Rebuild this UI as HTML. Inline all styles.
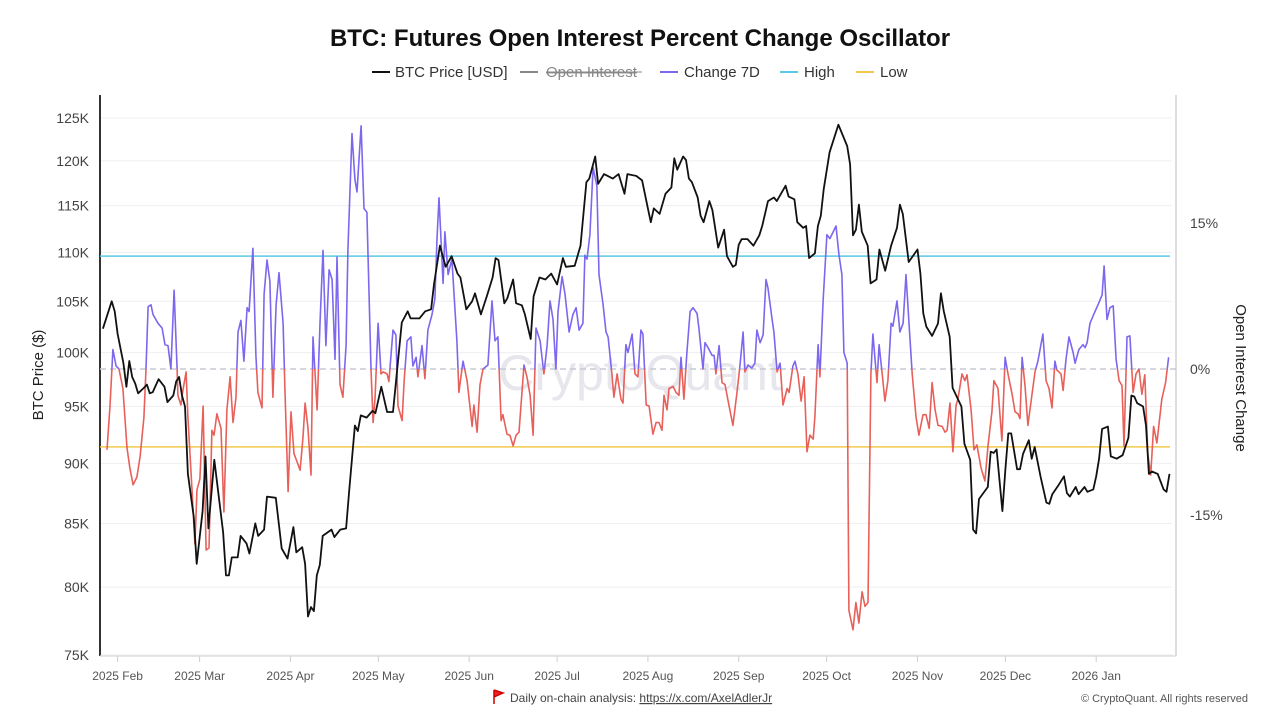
<!DOCTYPE html>
<html><head><meta charset="utf-8">
<style>
body{margin:0;width:1280px;height:720px;background:#fff;font-family:"Liberation Sans",sans-serif;overflow:hidden}
svg{display:block}
</style></head>
<body>
<svg id="chart" width="1280" height="720" viewBox="0 0 1280 720" xmlns="http://www.w3.org/2000/svg">
<text x="640" y="46" text-anchor="middle" font-size="24" font-weight="bold" fill="#111">BTC: Futures Open Interest Percent Change Oscillator</text>
<g id="legend" font-size="15" fill="#333">
  <g><line x1="372" y1="72" x2="390" y2="72" stroke="#111" stroke-width="2"/><text x="395" y="77">BTC Price [USD]</text></g>
  <g><line x1="520" y1="72" x2="538" y2="72" stroke="#888" stroke-width="2"/><text x="546" y="77" fill="#888" text-decoration="line-through">Open Interest</text><line x1="546" y1="72" x2="642" y2="72" stroke="#888" stroke-width="1"/></g>
  <g><line x1="660" y1="72" x2="678" y2="72" stroke="#7b68ee" stroke-width="2"/><text x="684" y="77">Change 7D</text></g>
  <g><line x1="780" y1="72" x2="798" y2="72" stroke="#5bc8e6" stroke-width="2"/><text x="804" y="77">High</text></g>
  <g><line x1="856" y1="72" x2="874" y2="72" stroke="#f2c94c" stroke-width="2"/><text x="880" y="77">Low</text></g>
</g>
<text x="640" y="390" text-anchor="middle" font-size="50" fill="#e6e6ec">CryptoQuant</text>
<g id="grid"></g>
<g id="axes"></g>
<g id="series"></g>
<text transform="translate(43,375) rotate(-90)" text-anchor="middle" font-size="15" fill="#222">BTC Price ($)</text>
<text transform="translate(1236,378) rotate(90)" text-anchor="middle" font-size="15" fill="#222">Open Interest Change</text>
<g font-size="12" fill="#444">
  <path d="M494 690 L494 704 M494 690 L503 693 L494 697" stroke="#c00" stroke-width="1.5" fill="#e22"/>
  <text x="510" y="702">Daily on-chain analysis: <tspan text-decoration="underline">https://x.com/AxelAdlerJr</tspan></text>
</g>
<text x="1248" y="702" text-anchor="end" font-size="11" fill="#555">© CryptoQuant. All rights reserved</text>
</svg>
<script>
const priceTicks=[75,80,85,90,95,100,105,110,115,120,125];
const oscTicks=[-15,0,15];
const monthLabels=["2025 Feb","2025 Mar","2025 Apr","2025 May","2025 Jun","2025 Jul","2025 Aug","2025 Sep","2025 Oct","2025 Nov","2025 Dec","2026 Jan"];
const monthDays=[6,34,65,95,126,156,187,218,248,279,309,340];
const highLevel=11.6;
const lowLevel=-8;
// days since 2025-01-26
const priceDays=[1,4,5,6,8,9,10,11,12,13,15,16,17,18,20,22,23,25,26,27,28,29,30,32,33,35,36,37,39,42,43,44,45,47,48,50,51,53,54,56,57,60,62,64,66,67,69,70,71,72,73,74,75,76,79,80,82,84,85,87,88,89,91,93,94,96,98,100,103,105,106,109,111,113,114,116,118,120,122,123,125,127,128,130,132,134,135,136,138,139,141,142,144,145,147,148,150,152,154,156,158,159,162,164,166,167,169,170,172,175,177,179,180,183,185,187,188,189,191,193,195,196,197,199,200,201,202,204,205,206,208,209,211,213,214,216,217,218,219,221,223,225,226,228,230,231,234,235,237,238,240,241,242,244,245,246,247,249,252,255,256,257,258,259,260,262,263,265,266,268,270,272,273,274,276,279,280,281,282,284,286,287,288,290,291,294,295,297,298,299,300,303,304,305,306,308,309,310,311,313,314,315,317,318,319,321,323,324,325,327,329,330,331,333,334,336,337,339,340,341,342,344,345,347,349,351,352,353,354,356,357,358,359,361,363,364,365];
const priceK=[102.3,105,104,101.8,99,96.8,99.2,97.7,97.1,96.2,96.7,97,96.2,96.3,97.5,96.8,95.4,96,97.3,97.7,96,95,89.1,85.5,81.8,86,90.6,84.6,90.3,84.3,80.9,80.9,82.3,82.3,84,83.4,82.6,85,84,84.5,87.2,87.1,83,82.2,84.7,82.7,83.1,81.8,77.8,78.5,78.2,80.9,81.7,84,84.5,83.9,84.5,84.6,87.6,93.3,92.8,94.2,94,94.6,94.4,96.8,94.5,94.5,102.9,104,103.3,103.3,104,104.2,106.7,110.7,108.5,109.6,107.8,107.4,104.2,105,105.8,103.7,105.5,107.4,109.4,109.2,104.8,105.3,107.2,104.8,104.6,103.7,101.3,105.5,107.4,107.2,107.8,106.7,109.4,108.5,108.6,110.7,117.6,118,120.5,117.4,118.5,118,118.5,116.3,118.5,118.3,117.8,114.7,113.2,114.7,114.1,116.3,117,120.3,119,120.5,120.1,118,117.6,115.9,113.9,113.2,115.5,114.5,110.5,112.4,109.6,108.5,108.7,110.8,111.4,111.4,110.7,111.8,112.8,115.5,115.9,115.5,117.2,116,115.7,113.2,112.6,112.8,109.4,109.9,112.8,113.9,116.8,121,124.2,121.7,119.6,111.8,112.4,115.1,112.2,110.7,106.8,107.2,110.3,108.1,110.7,112.6,115.1,114.1,109,110.3,107.8,103.8,102.5,101.6,102.8,105.8,104,101.5,96.7,95,91.7,90.3,84.5,84.2,87,88,91,90.9,91.2,86,89.5,92.6,92.6,89.5,89.5,90.8,92,90.4,91.4,88.9,86.7,86.6,87.4,88.1,88.9,87.5,87.2,88,87.4,88,87.6,87.8,88.9,90.4,93,93.2,90.6,90.4,90.7,92.2,96,95.9,95.3,95,93.3,89.1,89.3,89.1,87.8,87.6,89.1];
const oscDays=[2.4,3.4,4.4,5.5,6.5,7.8,9.2,10.2,11.3,12.6,13.7,15,15.7,16.4,17.4,18.1,19.8,21.2,22.2,23.2,24.2,25.3,26.3,26.6,27.6,28.3,29.4,30,31.4,32.4,33.1,34.1,35.2,36.2,37.2,38.2,38.9,39.9,41.3,42.3,43.3,44.4,45.4,46.4,47.1,48.1,49.1,50.2,50.9,52.2,53.2,53.9,55.3,56,57,58,59,60.1,61.1,62.5,63.1,64.2,65.2,66.2,67.2,68.3,69.3,70,71,72,72.7,74.1,75.1,76.1,77.1,78.2,79.2,80.2,80.9,81.9,82.9,84,84.6,86,87,87.7,89.1,90.1,91.1,92.5,93.2,93.9,94.9,95.9,96.6,98,98.6,100,101,101.7,103.1,103.8,104.8,106.1,106.8,107.9,108.5,109.9,110.9,111.9,113.3,114.3,115,115.7,117.1,117.7,118.8,120.1,121.2,121.8,122.5,123.9,125.3,127,127.6,128.7,129.7,130.7,132.4,133.8,134.8,135.8,136.9,137.5,138.9,139.9,141,142,143,144.7,145.7,146.8,147.8,148.8,150.2,151.5,152.6,153.6,154.6,155.6,156.3,157.7,158.7,160.1,161.4,162.5,163.5,164.8,165.5,166.2,167.2,168.3,169.6,170.3,171.7,172.7,173.4,174.7,175.4,176.5,177.8,178.5,179.5,180.2,181.6,182.6,183.6,184.6,185.3,186.4,187.4,188.7,189.8,190.8,191.8,192.5,193.5,194.2,195.6,196.6,197.6,198.3,199.3,200.3,201.4,202.4,203.8,204.4,205.8,206.5,207.5,208.9,209.6,210.2,211.3,212.3,213.3,214.7,216,217.4,218.4,219.5,220.1,221.2,222.5,223.5,224.2,225.3,226.3,227.3,228,229.4,230,231.1,232.1,233.1,234.5,235.2,236.5,237.2,238.2,239.3,240.3,241.3,242.3,243.4,244,245.1,245.7,246.8,248.1,249.1,251.2,252.2,253.2,253.9,255,255.6,257,258,259,260.1,261.1,262.1,263.1,263.8,265.2,265.9,267.2,267.9,268.9,270,270.6,272,273,274.1,275.1,276.1,277.2,278.5,279.5,280.9,281.9,283,284,285,286,287.4,288.4,289.1,290.1,291.1,292.2,292.8,294.2,295.2,295.9,297.3,298.3,299.3,300.7,302,303.1,304.4,305.1,306.5,307.8,308.9,309.9,311.3,312.3,313.3,314,314.7,315.7,316.7,318.1,319.1,320.1,321.8,322.9,323.9,324.9,325.9,326.6,328,328.7,329.7,330.7,332.1,332.8,334.1,335.5,336.2,336.9,337.9,339.3,340.6,342,342.7,343.7,344.7,345.8,346.8,347.8,348.8,349.5,350.5,351.5,352.6,353.6,354.6,355.6,356.6,357.6,358.6,359.6,360.7,362.4,363.7,364.7];
const oscPct=[-8.3,-3.8,2,0.3,0,-2,-8.1,-10.2,-11.9,-11.1,-9,-5,0,6.4,6.6,5.6,4.7,4.2,2.5,2.4,0,8.1,0,-2.7,-3.7,-2.2,-0.3,-4.9,-12.4,-18,-12.4,-11.3,-3.8,-18.6,-18.4,-6.3,-6.8,-4.6,-6.1,-14.7,-4.2,-0.8,-5.5,-2.9,3.8,5,0.8,6.3,5.9,12.4,1.4,-2.4,-4,7.7,11.2,9,-2.9,6.6,9.9,4.7,-2,-12.6,-4.4,-8.7,-9.5,-10.4,-7,-3.5,-6.1,-10.9,3.3,-4.2,4.7,12.2,2.4,10.2,9.2,1,11.5,-1.6,-2.9,2.5,12.2,24.2,19.5,18.2,25,16.5,16.1,0,-5.5,-2.9,4.7,-0.5,-0.3,-0.5,-1.3,4,3.5,-3.8,-5.3,-1.3,2.9,3.3,0.3,1.2,-0.8,2.4,-1,4,5.6,7.2,13.4,17.6,8.8,14.1,9.7,11.3,5.9,2.9,-2.4,0.8,-1.2,-5.9,-3.7,-6.5,-1.6,0,0.4,7,2.9,3.3,-5.3,-4.7,-6.7,-6.8,-7.9,-6.8,-6.5,0.4,-0.8,-2.7,-6.8,4.2,2.9,-0.5,2.4,7,5.1,0,5.9,9.5,7.7,3.8,5.6,6.3,4,4.7,11.7,11.3,13.8,20.7,18.8,9.7,6.6,3.8,3.3,-0.5,-2.9,-0.5,-3.1,-3.5,2.5,1.7,3.6,-0.5,-0.8,4,3.6,-3.7,-3.8,-6.7,-5.5,-5.5,-6.3,-2.7,-4.2,-2,-1.8,-2.4,-2.7,1.2,-3.1,1.7,5.9,6.3,5.7,4.2,0,2.7,2.2,1.4,1.4,-0.5,2.4,-1.4,-1.6,-3.8,-5.8,-2.4,0.3,3.8,-0.3,0.4,0.1,0.6,4,2.7,3.5,9.2,8.3,5.1,3.8,-0.3,0.6,-3.7,-2,-2.4,0.3,0.8,-0.5,-3.3,-0.8,-8.5,-6.8,-7.2,-4.9,2.5,-0.8,7,13.8,13.4,14.7,11.8,9.7,1.7,0.6,-24.8,-26.8,-24,-26.1,-22.9,-24.4,-24,-0.5,3.6,-1.4,2.5,-1.2,-3.3,-1.2,4.7,4.4,7,3.8,4.7,9.7,4.7,-0.5,-4.9,-6.8,-4.7,-4.7,-6.1,-1.4,-4.2,-5.8,-5.9,-6.5,-6.3,-3.5,-8.5,-3.7,-3.1,-0.5,-1.2,-0.6,-4.2,-8.3,-7.8,-10.2,-11.5,-7.8,-4.4,-1.2,-2,-7.4,1.2,-0.5,-2.6,-4.4,-4.6,-5.1,1.2,-1.7,-5.8,-2.6,-0.3,0.8,3.6,-1.2,-2,-4,0.8,-0.1,-0.5,-2.2,1,3.3,1.7,0.6,2,2.5,2.2,2.7,4.7,5.7,6.6,7.6,10.6,5.1,6.3,6.5,1,-1.2,-1.7,-7.9,3.3,3.4,-2.4,-0.5,0,-2.6,-0.6,-8.7,-10.9,-5.9,-7.6,-3.1,-1.4,1.2];

const NS="http://www.w3.org/2000/svg";
const L=100,R=1176,T=95,B=656;
const xD=d=>100+d*2.93;
const yP=p=>655-Math.log(p/75)/Math.log(125/75)*537;
const yO=v=>369-v*9.73;
function mk(tag,attrs,parent){const e=document.createElementNS(NS,tag);for(const k in attrs)e.setAttribute(k,attrs[k]);parent.appendChild(e);return e;}
const grid=document.getElementById('grid'),axes=document.getElementById('axes'),series=document.getElementById('series');
priceTicks.forEach(p=>{
  const y=yP(p);
  const gl=mk('line',{x1:L,x2:R-4,y1:y,y2:y,stroke:'#efeff3','stroke-width':1},grid);
  
  
  const t=mk('text',{x:89,y:y+5,'text-anchor':'end','font-size':14,fill:'#444'},axes);
  t.textContent=p+'K';
  
  
});
oscTicks.forEach(v=>{
  const t=mk('text',{x:1190,y:yO(v)+5,'font-size':14,fill:'#444'},axes);
  t.textContent=v+'%';
  
  
});
monthLabels.forEach((m,i)=>{
  const x=xD(monthDays[i]);
  const tk=mk('line',{x1:x,x2:x,y1:B,y2:B+6,stroke:'#ccc'},axes);
  
  
  const t=mk('text',{x:x,y:680,'text-anchor':'middle','font-size':12,fill:'#555'},axes);
  t.textContent=m;
  
  
});
const la=mk('line',{x1:L,x2:L,y1:T,y2:B,stroke:'#333','stroke-width':2},axes);


const ra=mk('line',{x1:R,x2:R,y1:T,y2:B,stroke:'#ddd','stroke-width':2},axes);


const ba=mk('line',{x1:L,x2:R,y1:B,y2:B,stroke:'#ddd','stroke-width':1.5},axes);


const z=mk('line',{x1:L,x2:R,y1:yO(0),y2:yO(0),stroke:'#c8c8d4','stroke-width':1.5,'stroke-dasharray':'6,4'},series);


const hl=mk('line',{x1:L,x2:R-6,y1:yO(highLevel),y2:yO(highLevel),stroke:'#5bc8e6','stroke-width':1.5},series);


const ll=mk('line',{x1:L,x2:R-6,y1:yO(lowLevel),y2:yO(lowLevel),stroke:'#f2c94c','stroke-width':1.5},series);


const defs=mk('defs',{},series);
const c1=mk('clipPath',{id:'above'},defs);mk('rect',{x:L,y:0,width:R-L,height:yO(0)},c1);
const c2=mk('clipPath',{id:'below'},defs);mk('rect',{x:L,y:yO(0),width:R-L,height:720},c2);
const od=oscDays.map((d,i)=>(i?'L':'M')+xD(d).toFixed(1)+' '+yO(oscPct[i]).toFixed(1)).join(' ');
const op=mk('path',{d:od,fill:'none',stroke:'#7b68ee','stroke-width':1.6,'clip-path':'url(#above)','stroke-linejoin':'round'},series);


const on=mk('path',{d:od,fill:'none',stroke:'#e8605a','stroke-width':1.6,'clip-path':'url(#below)','stroke-linejoin':'round'},series);


const pd=priceDays.map((d,i)=>(i?'L':'M')+xD(d).toFixed(1)+' '+yP(priceK[i]).toFixed(1)).join(' ');
const pp=mk('path',{d:pd,fill:'none',stroke:'#111','stroke-width':1.8,'stroke-linejoin':'round'},series);


</script>
</body></html>
